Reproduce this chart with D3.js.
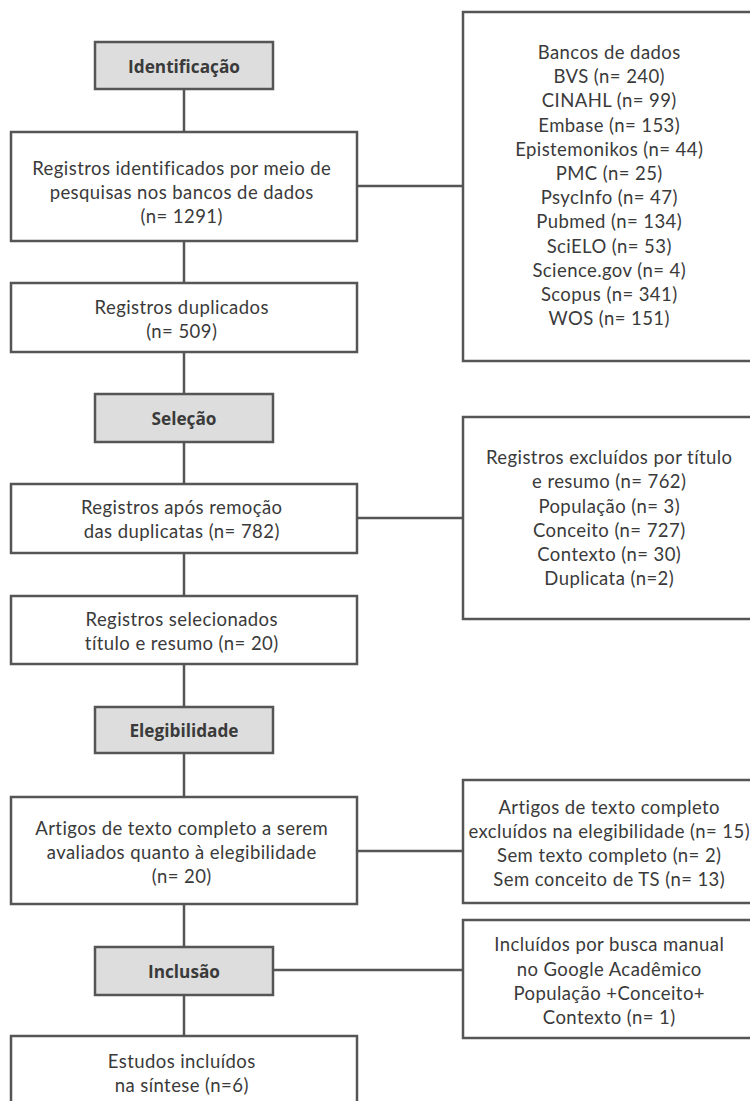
<!DOCTYPE html>
<html><head><meta charset="utf-8">
<script src="https://cdn.jsdelivr.net/npm/d3@7"></script>
<style>body{margin:0;background:#fff}svg{display:block}</style>
</head><body>
<script>
// ---- data ----
const stages = ["Identificação", "Seleção", "Elegibilidade", "Inclusão"];
const mainBoxes = [
  ["Registros identificados por meio de", "pesquisas nos bancos de dados", "(n= 1291)"],
  ["Registros duplicados", "(n= 509)"],
  ["Registros após remoção", "das duplicatas (n= 782)"],
  ["Registros selecionados", "título e resumo (n= 20)"],
  ["Artigos de texto completo a serem", "avaliados quanto à elegibilidade", "(n= 20)"],
  ["Estudos incluídos", "na síntese (n=6)"]
];
const databases = ["BVS", "CINAHL", "Embase", "Epistemonikos", "PMC", "PsycInfo", "Pubmed", "SciELO", "Science.gov", "Scopus", "WOS"];
const databaseCounts = [240, 99, 153, 44, 25, 47, 134, 53, 4, 341, 151];
const sideBoxes = [
  ["Bancos de dados"].concat(databases.map((d, i) => `${d} (n= ${databaseCounts[i]})`)),
  ["Registros excluídos por título", "e resumo (n= 762)", "População (n= 3)", "Conceito (n= 727)", "Contexto (n= 30)", "Duplicata (n=2)"],
  ["Artigos de texto completo", "excluídos na elegibilidade (n= 15)", "Sem texto completo (n= 2)", "Sem conceito de TS (n= 13)"],
  ["Incluídos por busca manual", "no Google Acadêmico", "População +Conceito+", "Contexto (n= 1)"]
];

// ---- layout ----
const W = 750, H = 1101;
const stageY = [[42, 89], [394, 442], [707, 753], [947, 995]];
const mainY = [[132, 241], [283, 352], [484, 553], [596, 664], [797, 904], [1036, 1118]];
const mainMid = [192.5, 319.5, 519.5, 631, 852.5, 1073];
const sideY = [[12, 361], [417, 619], [780, 903], [920, 1038]];
const sideMid = [185.5, 518, 843.5, 981];
const sideLinks = [{from: "main", i: 0, y: 186}, {from: "main", i: 2, y: 518}, {from: "main", i: 4, y: 851}, {from: "stage", i: 3, y: 970}];
const x = d3.scaleLinear().domain([0, 1]).range([0, 1]);
const mainX = [11, 357], stageX = [95, 273], sideX = [463, 760];
const cx = (mainX[0] + mainX[1]) / 2;
const mainTextX = 181.5, sideTextX = 609;
const lh = 24.2;
const stroke = "#555", txt = "#3a3a3a";
const FONT = "Lato, 'Open Sans', sans-serif";
const BFONT = "'Open Sans', 'Noto Sans', sans-serif";

const svg = d3.select("body").append("svg").attr("width", W).attr("height", H);

// calibrate to reference text widths
function measure(str, font, size, weight) {
  const t = svg.append("text").attr("font-family", font).attr("font-size", size).attr("font-weight", weight).text(str);
  const w = t.node().getComputedTextLength(); t.remove(); return w;
}
const regSize = 18.5;
const refStr = "Registros identificados por meio de";
const regLS = (299 - measure(refStr, FONT, regSize, 400)) / refStr.length;
const boldSize = 16 * 112 / measure("Identificação", BFONT, 16, 700);

// connectors
svg.append("line").attr("x1", x(cx)).attr("x2", x(cx)).attr("y1", stageY[0][1]).attr("y2", mainY[5][0])
  .attr("stroke", stroke).attr("stroke-width", 2.5);
sideLinks.forEach(l => {
  const x0 = l.from === "main" ? mainX[1] : stageX[1];
  svg.append("line").attr("x1", x(x0)).attr("x2", x(sideX[0])).attr("y1", l.y).attr("y2", l.y)
    .attr("stroke", stroke).attr("stroke-width", 2.5);
});

function box(x0, x1, y0, y1, fill) {
  svg.append("rect").attr("x", x(x0)).attr("y", y0).attr("width", x(x1) - x(x0)).attr("height", y1 - y0)
    .attr("fill", fill).attr("stroke", stroke).attr("stroke-width", 2.5);
}
function lines(arr, xc, mid, opts) {
  const t = svg.append("text").attr("text-anchor", "middle").attr("fill", txt)
    .attr("font-family", opts.font).attr("font-size", opts.size).attr("font-weight", opts.weight || 400)
    .attr("letter-spacing", opts.ls || 0);
  arr.forEach((s, k) => {
    t.append("tspan").attr("x", x(xc) + (opts.ls || 0) / 2).attr("y", mid + (k - (arr.length - 1) / 2) * lh).attr("dy", "0.36em").text(s);
  });
}

stages.forEach((s, i) => {
  box(stageX[0], stageX[1], stageY[i][0], stageY[i][1], "#dddddd");
  lines([s], cx, (stageY[i][0] + stageY[i][1]) / 2 + 1, {font: BFONT, size: boldSize, weight: 700});
});
mainBoxes.forEach((m, i) => {
  box(mainX[0], mainX[1], mainY[i][0], mainY[i][1], "#fff");
  lines(m, mainTextX, mainMid[i], {font: FONT, size: regSize, ls: regLS});
});
sideBoxes.forEach((s, i) => {
  box(sideX[0], sideX[1], sideY[i][0], sideY[i][1], "#fff");
  lines(s, sideTextX, sideMid[i], {font: FONT, size: regSize, ls: regLS});
});
</script>
</body></html>
